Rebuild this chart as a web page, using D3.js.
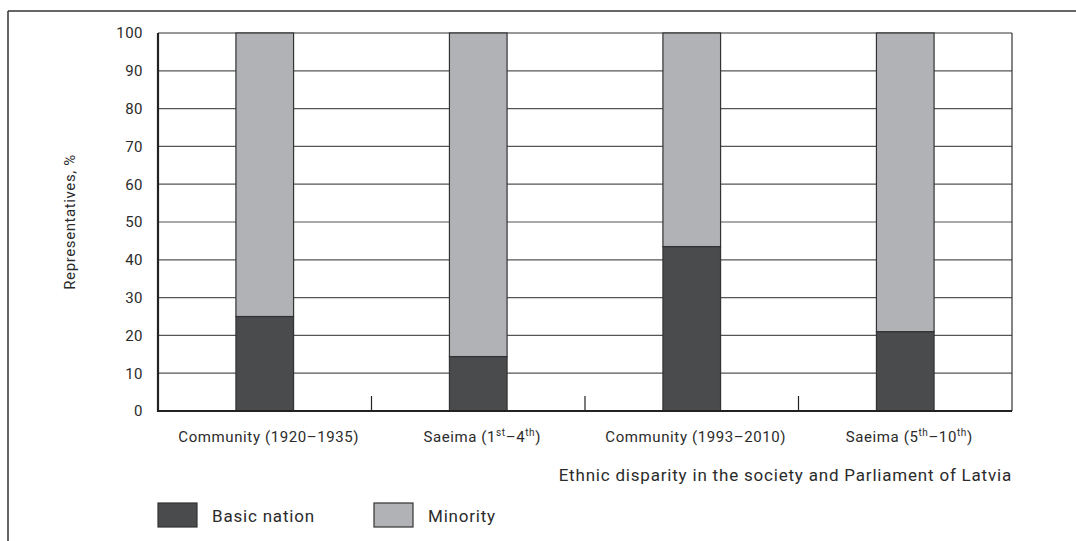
<!DOCTYPE html>
<html>
<head>
<meta charset="utf-8">
<script src="https://cdn.jsdelivr.net/npm/d3@7"></script>
<style>
  body { margin: 0; background: #fff; }
  text { font-family: Roboto, "Liberation Sans", sans-serif; fill: #2b2b2b; }
</style>
</head>
<body>
<svg width="1076" height="541"></svg>
<script>
// categories and the two stacked series (percent)
var categories = ["c1", "c2", "c3", "c4"];
var categoryLabels = [
    [["Community (1920\u20131935)", ""]],
    [["Saeima (1", ""], ["st", "sup"], ["\u20134", ""], ["th", "sup"], [")", ""]],
    [["Community (1993\u20132010)", ""]],
    [["Saeima (5", ""], ["th", "sup"], ["\u201310", ""], ["th", "sup"], [")", ""]]
];
var basicNation = [25, 14.4, 43.5, 21];
var minority = [75, 85.6, 56.5, 79];
var yTicks = [0, 10, 20, 30, 40, 50, 60, 70, 80, 90, 100];
var seriesNames = ["Basic nation", "Minority"];
var colors = ["#4a4b4d", "#b1b2b5"];

var svg = d3.select("svg");
var margin = {left: 158, top: 33, right: 64, bottom: 130};
var width = 1076 - margin.left - margin.right,
    height = 541 - margin.top - margin.bottom;

// outer frame (only top and left edges visible)
svg.append("line").attr("x1", 8).attr("x2", 1076).attr("y1", 11).attr("y2", 11)
    .attr("stroke", "#333").attr("stroke-width", 1.5);
svg.append("line").attr("x1", 8).attr("x2", 8).attr("y1", 11).attr("y2", 541)
    .attr("stroke", "#333").attr("stroke-width", 1.5);

var g = svg.append("g")
    .attr("transform", "translate(" + margin.left + "," + margin.top + ")");

var xScale = d3.scaleBand()
    .domain(categories)
    .range([0, width])
    .paddingInner(0.73)
    .paddingOuter(0.365);
var xGroup = d3.scaleBand().domain(categories).range([0, width]);
var yScale = d3.scaleLinear().domain([0, 100]).range([height, 0]);

// grid lines
g.selectAll(".grid")
    .data(yTicks.filter(function(d) { return d > 0 && d < 100; }))
    .enter().append("line")
    .attr("x1", 0).attr("x2", width)
    .attr("y1", function(d) { return yScale(d); })
    .attr("y2", function(d) { return yScale(d); })
    .attr("stroke", "#555").attr("stroke-width", 1.2);

// top and right edges of the plot
g.append("line").attr("x1", 0).attr("x2", width).attr("y1", 0).attr("y2", 0)
    .attr("stroke", "#333").attr("stroke-width", 1.2);
g.append("line").attr("x1", width).attr("x2", width).attr("y1", 0).attr("y2", height)
    .attr("stroke", "#333").attr("stroke-width", 1.2);

// stacked bars
var stackData = categories.map(function(c, i) {
    return {cat: c, b: basicNation[i], m: minority[i]};
});
var stack = d3.stack().keys(["b", "m"])(stackData);

g.selectAll(".series")
    .data(stack)
    .enter().append("g")
    .attr("fill", function(d, i) { return colors[i]; })
    .selectAll("rect")
    .data(function(d) { return d; })
    .enter().append("rect")
    .attr("x", function(d) { return xScale(d.data.cat); })
    .attr("y", function(d) { return yScale(d[1]); })
    .attr("width", xScale.bandwidth())
    .attr("height", function(d) { return yScale(d[0]) - yScale(d[1]); })
    .attr("stroke", "#333").attr("stroke-width", 1.2);

// y axis
var yAxis = g.append("g")
    .call(d3.axisLeft(yScale).tickValues(yTicks).tickSize(0).tickPadding(15));
yAxis.select(".domain").remove();
yAxis.selectAll("text").attr("font-size", 15).attr("fill", "#2b2b2b")
    .style("font-family", "Roboto, sans-serif").style("letter-spacing", "0.5px");
g.append("line").attr("x1", 0).attr("x2", 0).attr("y1", 0).attr("y2", height + 1)
    .attr("stroke", "#222").attr("stroke-width", 2.2);

// x axis: baseline plus upward ticks between groups
g.append("line").attr("x1", 0).attr("x2", width).attr("y1", height).attr("y2", height)
    .attr("stroke", "#222").attr("stroke-width", 2.2);
g.selectAll(".sep")
    .data(categories.slice(1))
    .enter().append("line")
    .attr("x1", function(d) { return xGroup(d); })
    .attr("x2", function(d) { return xGroup(d); })
    .attr("y1", height).attr("y2", height - 15)
    .attr("stroke", "#222").attr("stroke-width", 1.2);

// category labels
var lab = g.selectAll(".xlab")
    .data(categories)
    .enter().append("text")
    .attr("x", function(d) { return xGroup(d) + xGroup.bandwidth() / 2 + 4; })
    .attr("y", height + 31)
    .attr("text-anchor", "middle")
    .attr("font-size", 15)
    .style("letter-spacing", "0.6px");
lab.each(function(d, i) {
    var t = d3.select(this);
    var up = false;
    categoryLabels[i].forEach(function(p) {
        var s = t.append("tspan").text(p[0]);
        if (p[1] == "sup") {
            s.attr("font-size", 10).attr("dy", up ? 0 : -6);
            up = true;
        } else {
            s.attr("dy", up ? 6 : 0);
            up = false;
        }
    });
});

// x title
g.append("text")
    .attr("x", width).attr("y", height + 70)
    .attr("text-anchor", "end")
    .attr("font-size", 17)
    .style("letter-spacing", "0.8px")
    .text("Ethnic disparity in the society and Parliament of Latvia");

// y title
svg.append("text")
    .attr("transform", "translate(75," + (margin.top + height / 2) + ") rotate(-90)")
    .attr("text-anchor", "middle")
    .attr("font-size", 15)
    .style("letter-spacing", "0.6px")
    .text("Representatives, %");

// legend
var legend = svg.append("g").attr("transform", "translate(158,503)");
var items = legend.selectAll("g")
    .data(seriesNames)
    .enter().append("g")
    .attr("transform", function(d, i) { return "translate(" + (i * 216) + ",0)"; });
items.append("rect")
    .attr("width", 39).attr("height", 24)
    .attr("fill", function(d, i) { return colors[i]; })
    .attr("stroke", "#333").attr("stroke-width", 1.2);
items.append("text")
    .attr("x", 54).attr("y", 19)
    .attr("font-size", 17)
    .style("letter-spacing", "0.8px")
    .text(function(d) { return d; });
</script>
</body>
</html>
